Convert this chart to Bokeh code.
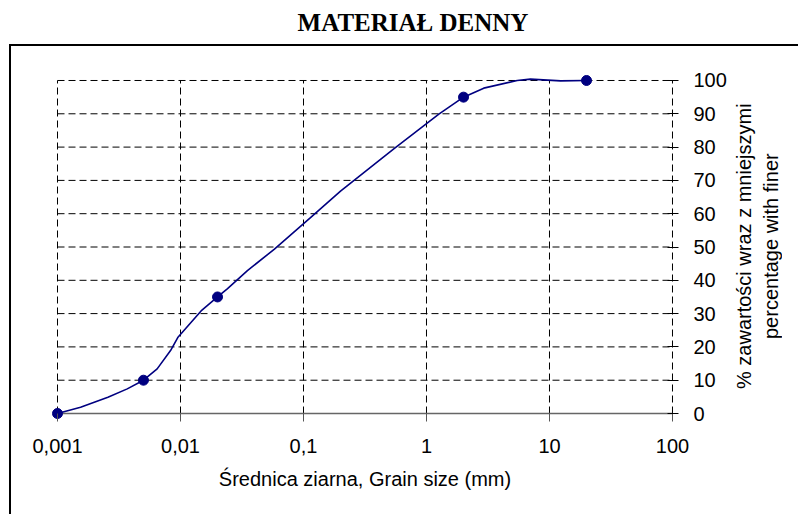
from bokeh.plotting import figure
from bokeh.models import FixedTicker, LinearAxis, Range1d, Div
from bokeh.layouts import column, row
from bokeh.embed import file_html
from bokeh.resources import INLINE

# ---- data ----
title_text = "MATERIAŁ DENNY"
x_title = "Średnica ziarna, Grain size (mm)"
y_title_lines = ["% zawartości wraz z mniejszymi", "percentage with finer"]

sieve_mm = [0.001, 0.005, 0.02, 2, 20]
passing_pct = [0, 10, 35, 95, 100]

# smoothed curve as drawn in the picture
curve_mm = [0.001, 0.00154, 0.00257, 0.00369, 0.005, 0.00646, 0.0083, 0.0095,
            0.0147, 0.02, 0.024, 0.035, 0.0577, 0.114, 0.20, 0.542, 1.26,
            2.0, 2.92, 5.46, 7.0, 12.3, 20]
curve_pct = [0, 1.9, 4.9, 7.4, 10, 13.4, 18.9, 22.8,
             30.8, 35, 37.4, 42.9, 49.3, 58.8, 66.8, 79.5, 89.9,
             95, 97.7, 100.0, 100.4, 99.9, 100]

x_ticks = [0.001, 0.01, 0.1, 1, 10, 100]
x_tick_labels = ["0,001", "0,01", "0,1", "1", "10", "100"]
y_ticks = [0, 10, 20, 30, 40, 50, 60, 70, 80, 90, 100]

FONT = "Liberation Sans"
LINE = "#000080"

# small padding around the data box so edge markers are not clipped
x_lo, x_hi = x_ticks[0], x_ticks[-1]
y_lo, y_hi = y_ticks[0], y_ticks[-1]
xpad = 0.0488  # decades
ypad = 1.8

p = figure(width=722, height=470, x_axis_type="log",
           x_range=Range1d(x_lo / 10 ** xpad, x_hi * 10 ** xpad),
           y_range=Range1d(y_lo - ypad, y_hi + ypad),
           output_backend="svg", toolbar_location=None,
           min_border_left=40, min_border_right=55,
           min_border_top=28, min_border_bottom=97,
           y_axis_location=None)
p.outline_line_color = None
p.background_fill_color = "white"
p.border_fill_color = "white"
p.margin = (0, 0, 0, 9)
p.styles = {"border-left": "2px solid black", "border-top": "2px solid black"}
p.xgrid.visible = False
p.ygrid.visible = False

# bottom axis
xa = p.xaxis[0]
xa.ticker = FixedTicker(ticks=x_ticks)
xa.major_label_overrides = {t: l for t, l in zip(x_ticks, x_tick_labels)}
xa.minor_tick_line_color = None
xa.axis_line_color = None
xa.major_tick_in = 6
xa.major_tick_out = 2
xa.major_tick_line_color = "#555555"
xa.major_label_text_font = FONT
xa.major_label_text_font_size = "20px"
xa.major_label_text_color = "black"
xa.major_label_standoff = 17
xa.axis_label = x_title
xa.axis_label_text_font = FONT
xa.axis_label_text_font_size = "20px"
xa.axis_label_text_font_style = "normal"
xa.axis_label_text_color = "black"
xa.axis_label_standoff = 12

# right axis
ya = LinearAxis(ticker=FixedTicker(ticks=y_ticks))
ya.axis_line_color = None
ya.minor_tick_line_color = None
ya.major_tick_in = 11
ya.major_tick_out = 0
ya.major_tick_line_color = "black"
ya.major_label_text_font = FONT
ya.major_label_text_font_size = "20px"
ya.major_label_text_color = "black"
ya.major_label_standoff = 15
p.add_layout(ya, "right")

# dashed grid limited to the data box
p.segment(x0=x_ticks, y0=[y_lo] * len(x_ticks), x1=x_ticks, y1=[y_hi] * len(x_ticks),
          line_color="black", line_dash="7 4", line_width=1)
hy = y_ticks[1:]
p.segment(x0=[x_lo] * len(hy), y0=hy, x1=[x_hi] * len(hy), y1=hy,
          line_color="black", line_dash="7 4", line_width=1)
# solid zero line (x axis)
p.segment(x0=[x_lo], y0=[y_lo], x1=[x_hi], y1=[y_lo],
          line_color="#666666", line_width=1.5)

p.line(curve_mm, curve_pct, line_color=LINE, line_width=1.6)
p.scatter(sieve_mm, passing_pct, size=10, fill_color=LINE, line_color=LINE)

# right axis title (two rotated lines, reading bottom to top)
ytitle_html = (
    '<div style="writing-mode: vertical-rl; transform: rotate(180deg); '
    'height: 400px; text-align: center; font-family: \'Liberation Sans\'; '
    'font-size: 20px; line-height: 27px; color: black; white-space: nowrap;">'
    + "<br>".join(y_title_lines) + "</div>")
ydiv = Div(text=ytitle_html, width=67, height=470, margin=0,
           styles={"border-top": "2px solid black"})

title = Div(text=title_text, width=800, height=44, margin=0,
            styles={"font-family": "'Liberation Serif'", "font-weight": "bold",
                    "font-size": "25px", "line-height": "28px",
                    "padding-top": "9px", "box-sizing": "border-box",
                    "text-align": "center", "padding-left": "26px",
                    "width": "800px", "color": "black"})

layout = column(title, row(p, ydiv, spacing=0), spacing=0)
open("out.html", "w").write(file_html(layout, INLINE))
